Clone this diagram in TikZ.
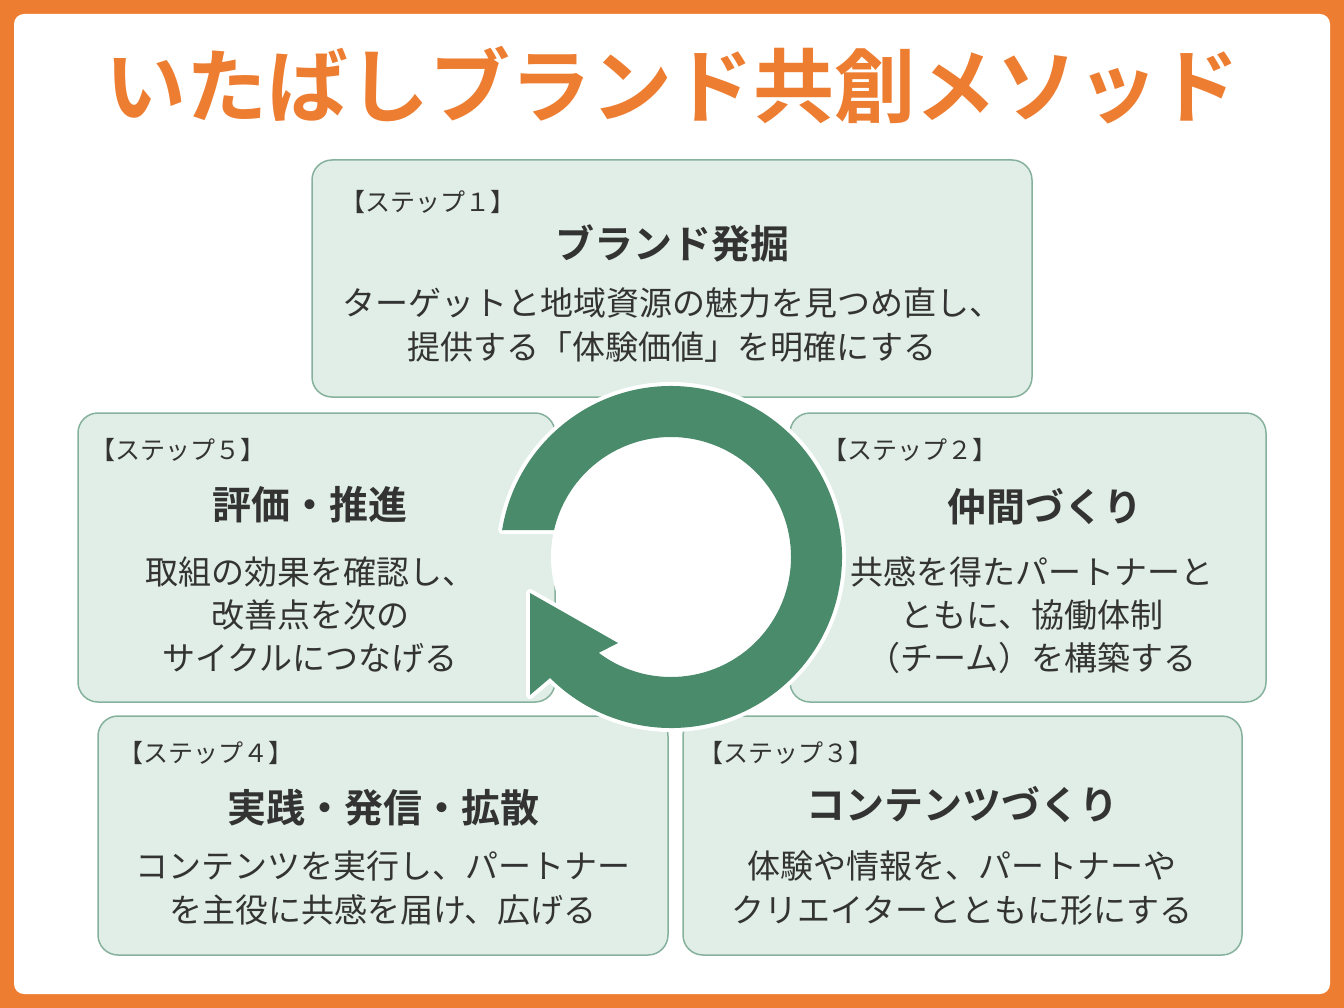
\documentclass[tikz,border=0pt]{standalone}
\usepackage{fontspec}
\usetikzlibrary{calc}
\newfontfamily\jp{Noto Sans CJK JP}
\newfontfamily\jpb{Noto Sans CJK JP Bold}
\definecolor{org}{HTML}{ED7D31}
\definecolor{boxf}{HTML}{E0EEE7}
\definecolor{boxd}{HTML}{86B19C}
\definecolor{ring}{HTML}{4A8B6B}
\definecolor{txt}{HTML}{333333}
\begin{document}
\begin{tikzpicture}[x=1pt,y=-1pt,
  stepbox/.style={draw=boxd,fill=boxf,line width=1.5pt,rounded corners=20pt},
  lab/.style={anchor=west,text=txt,font=\jp\fontsize{25}{25}\selectfont,inner sep=0},
  head/.style={text=txt,font=\jpb\fontsize{39}{39}\selectfont,inner sep=0},
  body/.style={text=txt,font=\jp\fontsize{33}{33}\selectfont,inner sep=0}]
\useasboundingbox (0,0) rectangle (1344,1008);
\fill[org] (0,0) rectangle (1344,1008);
\fill[white,rounded corners=10pt] (14,14) rectangle (1330,994);
\node[font=\jpb\fontsize{81}{81}\selectfont,text=org,inner sep=0] (title) at (672,85) {いたばしブランド共創メソッド};
% boxes
\draw[stepbox] (312,160) rectangle (1032,397);
\draw[stepbox] (78,413) rectangle (555,702);
\draw[stepbox] (790,413) rectangle (1266,702);
\draw[stepbox] (98,716) rectangle (668,955);
\draw[stepbox] (683,716) rectangle (1242,955);
% step1
\node[lab] (l1) at (340,202) {【ステップ１】};
\node[head] (h1) at (672,243) {ブランド発掘};
\node[body] (b1a) at (672,303) {ターゲットと地域資源の魅力を見つめ直し、};
\node[body] (b1b) at (672,347) {提供する「体験価値」を明確にする};
% step5
\node[lab] (l5) at (90,450) {【ステップ５】};
\node[head] (h5) at (310,505) {評価・推進};
\node[body] (b5a) at (310,572) {取組の効果を確認し、};
\node[body] (b5b) at (310,615) {改善点を次の};
\node[body] (b5c) at (310,658) {サイクルにつなげる};
% step2
\node[lab] (l2) at (822,450) {【ステップ２】};
\node[head] (h2) at (1045,507) {仲間づくり};
\node[body] (b2a) at (1032,572) {共感を得たパートナーと};
\node[body] (b2b) at (1032,615) {ともに、協働体制};
\node[body] (b2c) at (1032,658) {（チーム）を構築する};
% step4
\node[lab] (l4) at (118,753) {【ステップ４】};
\node[head] (h4) at (383,808) {実践・発信・拡散};
\node[body] (b4a) at (383,866) {コンテンツを実行し、パートナー};
\node[body] (b4b) at (383,910) {を主役に共感を届け、広げる};
% step3
\node[lab] (l3) at (698,753) {【ステップ３】};
\node[head] (h3) at (962,805) {コンテンツづくり};
\node[body] (b3a) at (962,866) {体験や情報を、パートナーや};
\node[body] (b3b) at (962,910) {クリエイターとともに形にする};
% ring
\coordinate (c) at (671,557);
\fill[white] (c) circle (120);
\def\ringpath{($(c)+(-171:171)$) arc[start angle=-171,end angle=135,radius=171]
  -- (530,695) -- (530,593) -- (618,643) -- ($(c)+(127:120)$)
  arc[start angle=127,end angle=-167,radius=120] -- cycle}
\draw[white,line width=8pt,line join=round] \ringpath;
\fill[ring] \ringpath;
\end{tikzpicture}
\end{document}
